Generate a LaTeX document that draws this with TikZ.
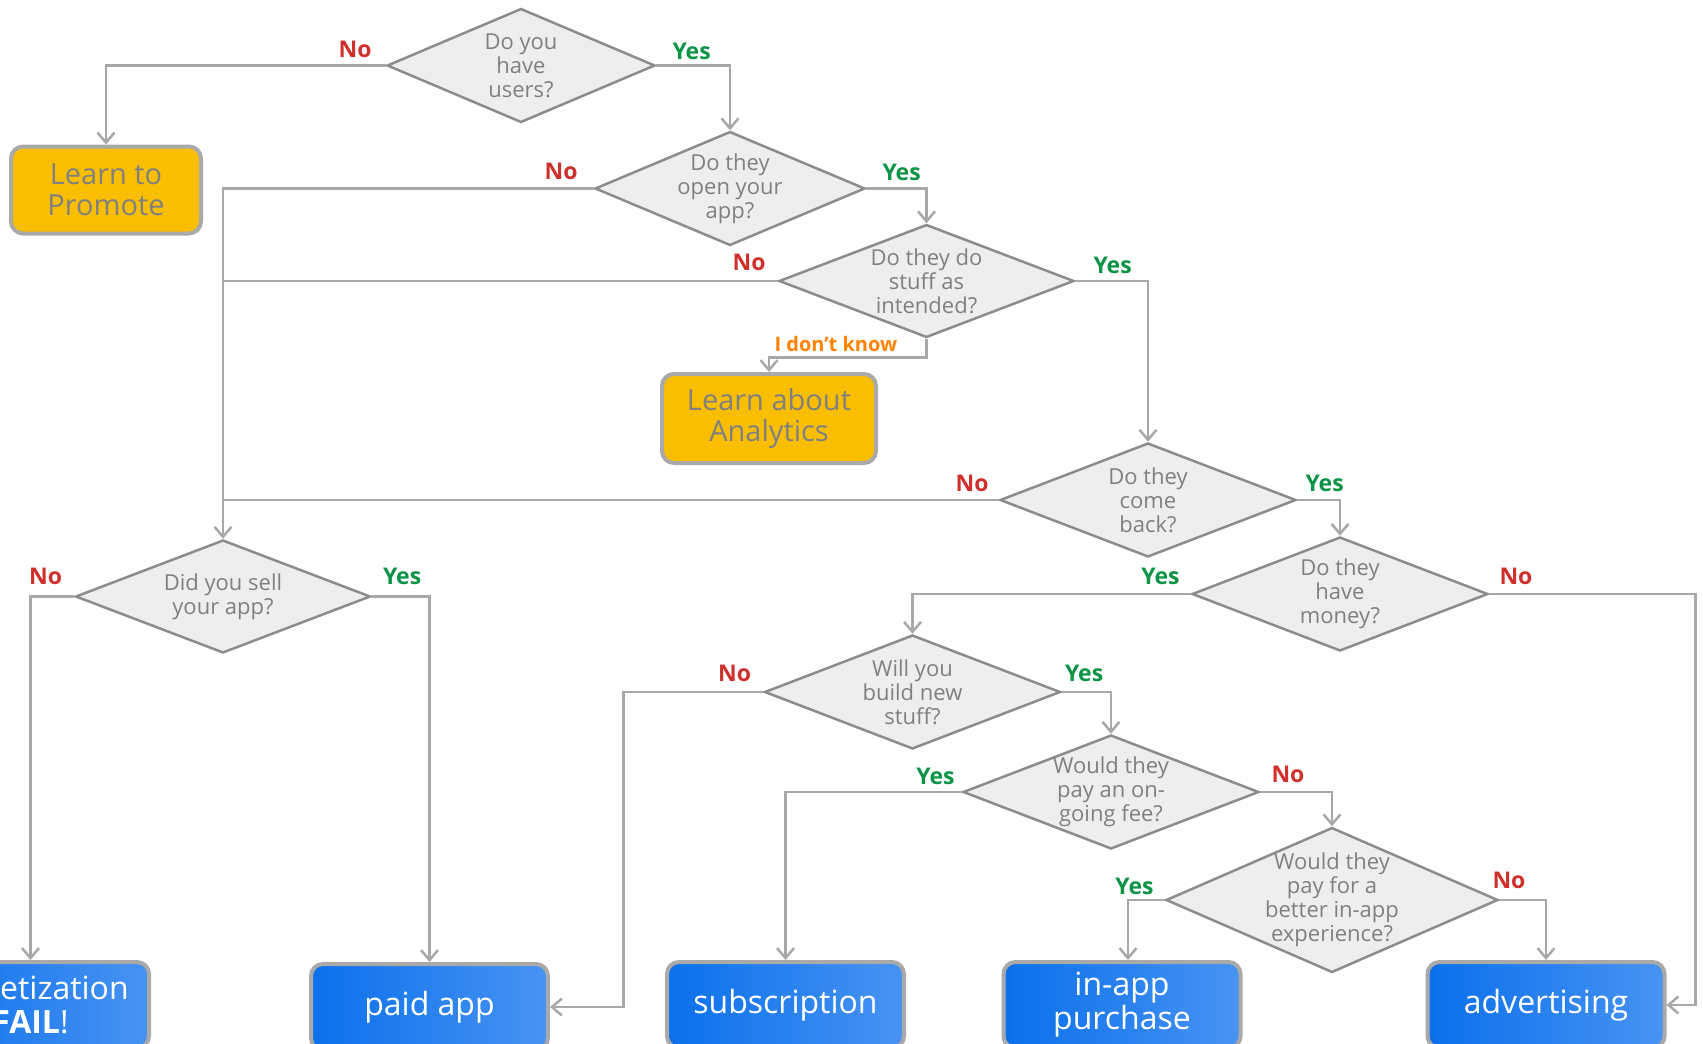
\documentclass[tikz,border=0pt]{standalone}
\usepackage{fontspec}
\setmainfont{Open Sans}
\usetikzlibrary{shapes.geometric,arrows.meta}
\definecolor{linegray}{HTML}{A8A8A8}
\definecolor{diaedge}{HTML}{8C8C8C}
\definecolor{diafill}{HTML}{EEEEEE}
\definecolor{qgray}{HTML}{808080}
\definecolor{learnfill}{HTML}{F9BE00}
\definecolor{boxedge}{HTML}{A9A9A9}
\definecolor{bluedark}{HTML}{0A70EB}
\definecolor{bluelight}{HTML}{4893F2}
\definecolor{nored}{HTML}{D0302C}
\definecolor{yesgreen}{HTML}{0B9445}
\definecolor{dunnoorange}{HTML}{FF8200}
\tikzstyle{question} = [diamond, draw=diaedge, fill=diafill, line width=2.5pt, inner sep=0pt]
\tikzstyle{qtxt} = [text=qgray, align=center, inner sep=0pt, font=\fontsize{22}{24}\selectfont]
\tikzstyle{learn} = [rectangle, rounded corners=12pt, draw=boxedge, line width=4pt, fill=learnfill, text=qgray, align=center, font=\fontsize{29}{31}\selectfont]
\tikzstyle{model} = [rectangle, rounded corners=12pt, draw=boxedge, line width=4pt, left color=bluedark, right color=bluelight, text=white, align=center, minimum width=237pt, minimum height=86pt, font=\fontsize{32}{34}\selectfont]
\tikzstyle{no} = [text=nored, inner sep=0pt, font=\bfseries\fontsize{23}{24}\selectfont]
\tikzstyle{yes} = [text=yesgreen, inner sep=0pt, font=\bfseries\fontsize{23}{24}\selectfont]
\tikzstyle{dunno} = [text=dunnoorange, inner sep=0pt, font=\bfseries\fontsize{20}{22}\selectfont]

\begin{document}
\begin{tikzpicture}[x=1pt,y=-1pt,>={Straight Barb[length=10pt,width=17pt]},flow/.style={->,draw=linegray,line width=2.5pt}]
  \useasboundingbox (0,0) rectangle (1703,1044);
  \clip (0,0) rectangle (1703,1044);

  \node[question, minimum width=268pt, minimum height=114pt, label={[qtxt]center:{Do you\\have\\users?}}] (users) at (521,65.5) {};
  \node[question, minimum width=270pt, minimum height=114pt, label={[qtxt]center:{Do they\\open your\\app?}}] (open) at (730,188.5) {};
  \node[question, minimum width=295pt, minimum height=113pt, label={[qtxt]center:{Do they do\\stuff as\\intended?}}] (stuff) at (926.5,281) {};
  \node[question, minimum width=296pt, minimum height=114pt, label={[qtxt]center:{Do they\\come\\back?}}] (back) at (1148,500) {};
  \node[question, minimum width=296pt, minimum height=114pt, label={[qtxt]center:{Do they\\have\\money?}}] (money) at (1340,594) {};
  \node[question, minimum width=296pt, minimum height=114pt, label={[qtxt]center:{Will you\\build new\\stuff?}}] (build) at (912.5,692) {};
  \node[question, minimum width=295pt, minimum height=113pt, label={[qtxt]center:{Did you sell\\your app?}}] (sell) at (223,596.5) {};
  \node[question, minimum width=296pt, minimum height=114pt, label={[qtxt]center:{Would they\\pay an on-\\going fee?}}] (fee) at (1111,792) {};
  \node[question, minimum width=332pt, minimum height=145pt, label={[qtxt]center:{Would they\\pay for a\\better in-app\\experience?}}] (better) at (1332,900) {};

  \node[learn, minimum width=190pt, minimum height=87pt] (promote) at (106,190) {Learn to\\Promote};
  \node[learn, minimum width=214pt, minimum height=89pt] (analytics) at (769,418.5) {Learn about\\Analytics};

  \node[model] (fail) at (30.5,1005) {Monetization\\\textbf{FAIL}!};
  \node[model] (paid) at (429.5,1007) {paid app};
  \node[model] (subscr) at (785.5,1005) {subscription};
  \node[model] (inapp) at (1122,1005) {in-app\\purchase};
  \node[model] (advert) at (1546,1005) {advertising};

  \draw[flow] (users.west) node[no, anchor=base east, xshift=-13pt, yshift=8pt] (nusers) {No} -| (promote.north);
  \draw[flow] (users.east) node[yes, anchor=base west, xshift=15pt, yshift=6pt] (yusers) {Yes} -| (open.north);
  \draw[flow] (open.west) node[no, anchor=base east, xshift=-15pt, yshift=9pt] (nopen) {No} -| (sell.north);
  \draw[flow] (open.east) node[yes, anchor=base west, xshift=15pt, yshift=8pt] (yopen) {Yes} -| (stuff.north);
  \draw[flow,-] (stuff.west) node[no, anchor=base east, xshift=-11pt, yshift=11pt] (nstuff) {No} -- (stuff.west -| sell.north);
  \draw[flow] (stuff.east) node[yes, anchor=base west, xshift=17pt, yshift=8pt] (ystuff) {Yes} -| (back.north);
  \draw[flow] (stuff.south) -- ++(0,18.5) node[dunno, anchor=base east, xshift=-28pt, yshift=6pt] (dstuff) {I don’t know} -| (analytics.north);
  \draw[flow,-] (back.west) node[no, anchor=base east, xshift=-9pt, yshift=9pt] (nback) {No} -- (back.west -| sell.north);
  \draw[flow] (back.east) node[yes, anchor=base west, xshift=7pt, yshift=9pt] (yback) {Yes} -| (money.north);
  \draw[flow] (money.west) node[yes, anchor=base east, xshift=-10pt, yshift=10pt] (ymoney) {Yes} -| (build.north);
  \draw[flow] (money.east) node[no, anchor=base west, xshift=9pt, yshift=10pt] (nmoney) {No} -- ++(206,0) |- (advert.east);
  \draw[flow] (build.west) node[no, anchor=base east, xshift=-11pt, yshift=11pt] (nbuild) {No} -- ++(-140,0) |- (paid.east);
  \draw[flow] (build.east) node[yes, anchor=base west, xshift=2pt, yshift=11pt] (ybuild) {Yes} -| (fee.north);
  \draw[flow] (sell.west) node[no, anchor=base east, xshift=-11pt, yshift=12pt] (nsell) {No} -| (fail.north);
  \draw[flow] (sell.east) node[yes, anchor=base west, xshift=10pt, yshift=12pt] (ysell) {Yes} -| (paid.north);
  \draw[flow] (fee.west) node[yes, anchor=base east, xshift=-6pt, yshift=8pt] (yfee) {Yes} -| (subscr.north);
  \draw[flow] (fee.east) node[no, anchor=base west, xshift=10pt, yshift=10pt] (nfee) {No} -| (better.north);
  \draw[flow] (better.west) node[yes, anchor=base east, xshift=-10pt, yshift=6pt] (ybetter) {Yes} -| ([xshift=6pt]inapp.north);
  \draw[flow] (better.east) node[no, anchor=base west, xshift=-8pt, yshift=12pt] (nbetter) {No} -| (advert.north);
\end{tikzpicture}
\end{document}
